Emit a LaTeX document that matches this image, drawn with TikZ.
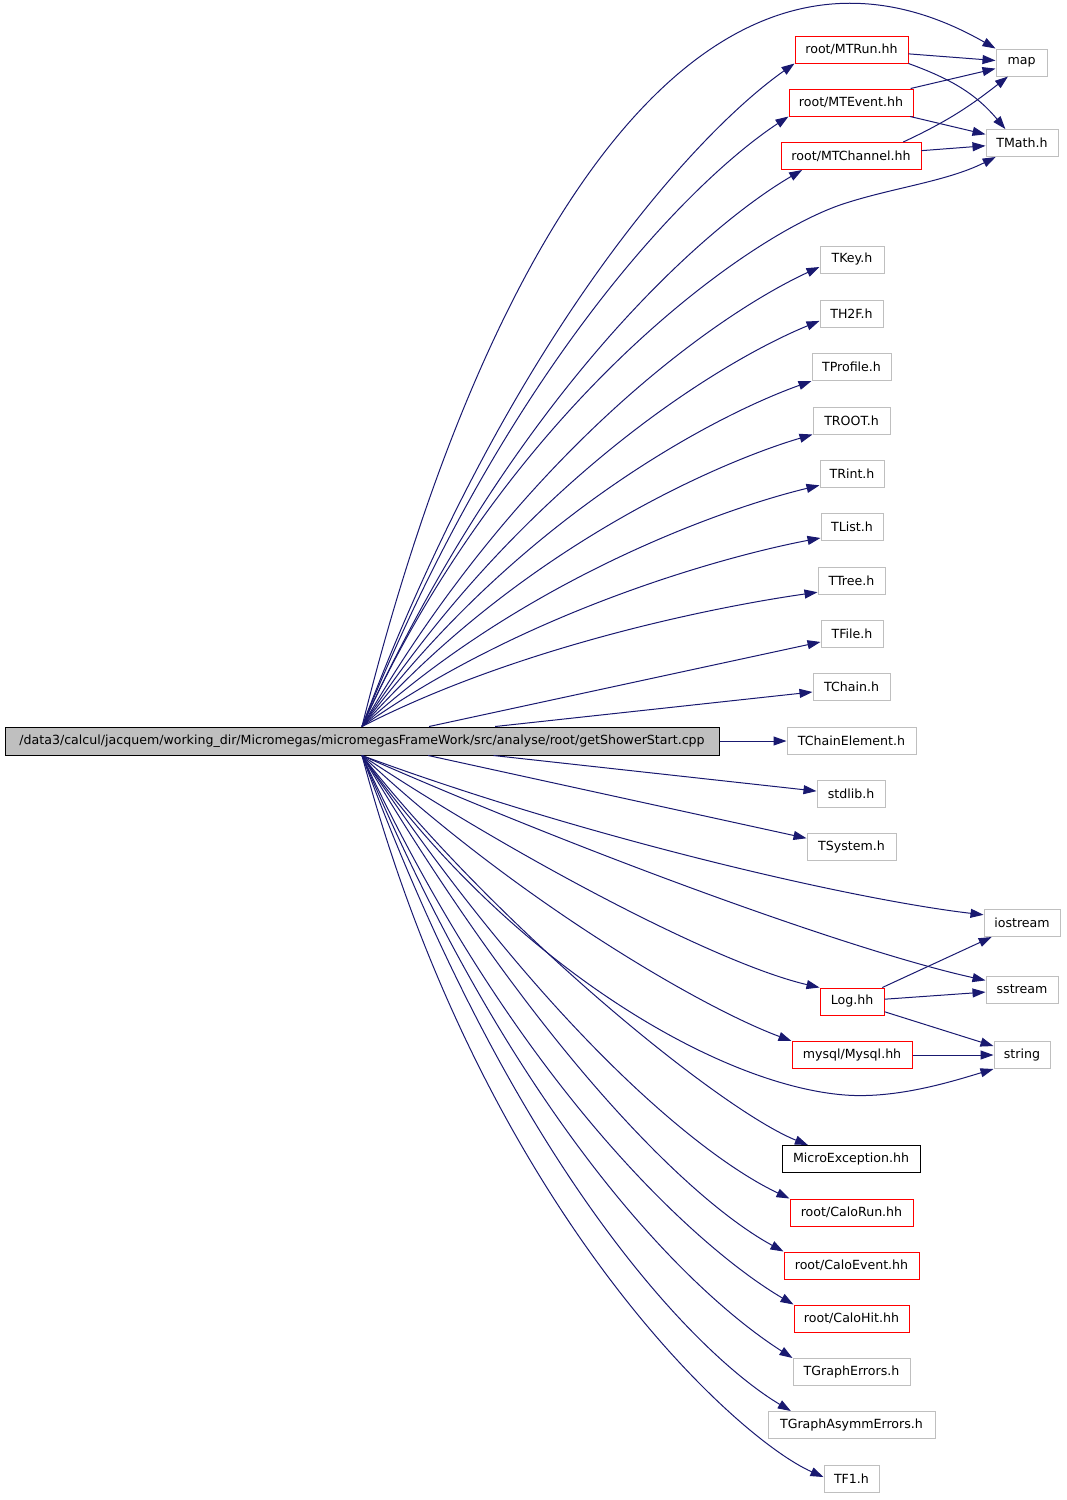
\documentclass[tikz,border=0pt]{standalone}
\usepackage{fontspec}
\setmainfont{DejaVu Sans}
\usepackage{tikz}
\usetikzlibrary{arrows.meta}
\definecolor{edgeblue}{HTML}{191970}
\definecolor{boxgray}{HTML}{BFBFBF}
\tikzset{%
  every file/.style={
    rectangle,
    draw=boxgray,
    line width=1pt,
    minimum height=27pt,
    inner sep=0pt,
    font=\fontsize{12.6pt}{14pt}\selectfont
  },
  file red/.style={every file, draw=red},
  file black/.style={every file, draw=black},
  file main/.style={every file, draw=black, fill=boxgray, minimum height=28pt},
  include/.style={draw=edgeblue, line width=1pt, ->},
}

\begin{document}
\begin{tikzpicture}[x=1pt, y=-1pt, >={Triangle[length=13pt,width=9pt]}]
\useasboundingbox (0,0) rectangle (1067,1500);

\node[file main, minimum width=714pt] (main) at (362,741) {/data3/calcul/jacquem/working\_dir/Micromegas/micromegasFrameWork/src/analyse/root/getShowerStart.cpp};

% included files
\node[file red, minimum width=113pt] (mtrun) at (851.5,49.5) {root/MTRun.hh};
\node[file red, minimum width=124pt] (mtevent) at (851,102.5) {root/MTEvent.hh};
\node[file red, minimum width=140pt] (mtchannel) at (851,156) {root/MTChannel.hh};
\node[every file, minimum width=64pt] (tkey) at (852,259.5) {TKey.h};
\node[every file, minimum width=63pt] (th2f) at (851.5,313.5) {TH2F.h};
\node[every file, minimum width=79pt] (tprofile) at (851.5,367) {TProfile.h};
\node[every file, minimum width=77pt] (troot) at (851.5,420.5) {TROOT.h};
\node[every file, minimum width=64pt] (trint) at (852,473.5) {TRint.h};
\node[every file, minimum width=62pt] (tlist) at (852,526.5) {TList.h};
\node[every file, minimum width=67pt] (ttree) at (851.5,580.5) {TTree.h};
\node[every file, minimum width=62pt] (tfile) at (852,633.5) {TFile.h};
\node[every file, minimum width=77pt] (tchain) at (851.5,686.5) {TChain.h};
\node[every file, minimum width=129pt] (tchainel) at (851.5,741) {TChainElement.h};
\node[every file, minimum width=68pt] (stdlib) at (851,793.5) {stdlib.h};
\node[every file, minimum width=89pt] (tsystem) at (851.5,847) {TSystem.h};
\node[file red, minimum width=64pt] (loghh) at (852,1001.5) {Log.hh};
\node[file red, minimum width=120pt] (mysql) at (852,1055) {mysql/Mysql.hh};
\node[file black, minimum width=138pt] (microexc) at (851,1159) {MicroException.hh};
\node[file red, minimum width=123pt] (calorun) at (851.5,1212.5) {root/CaloRun.hh};
\node[file red, minimum width=135pt] (caloevent) at (851.5,1265.5) {root/CaloEvent.hh};
\node[file red, minimum width=115pt] (calohit) at (851.5,1318.5) {root/CaloHit.hh};
\node[every file, minimum width=117pt] (tgraph) at (851.5,1372) {TGraphErrors.h};
\node[every file, minimum width=167pt] (tgraphasym) at (851.5,1425) {TGraphAsymmErrors.h};
\node[every file, minimum width=55pt] (tfone) at (851.5,1478.5) {TF1.h};

% second level
\node[every file, minimum width=51pt] (map) at (1021.5,62.5) {map};
\node[every file, minimum width=72pt] (tmath) at (1022,143) {TMath.h};
\node[every file, minimum width=76pt] (iostream) at (1022,923) {iostream};
\node[every file, minimum width=72pt] (sstream) at (1022,989.5) {sstream};
\node[every file, minimum width=56pt] (string) at (1022,1055) {string};

% upper fan
\draw[include] (main.north) .. controls +(118,-477) and +(-296,-169) .. (map.north west);
\draw[include] (main.north) .. controls +(150,-398) and +(-94,66) .. (mtrun.south west);
\draw[include] (main.north) .. controls +(148,-367) and +(-93,61) .. (mtevent.south west);
\draw[include] (main.north) .. controls +(153,-334) and +(-96,56) .. (mtchannel.196);
\draw[include] (main.north) .. controls +(142,-313) and +(-100,35) .. (840,205)
  .. controls +(50,-17) and +(-50,25) .. (tmath.208);
\draw[include] (main.north) .. controls +(159,-276) and +(-100,46) .. (tkey.193);
\draw[include] (main.north) .. controls +(160,-244) and +(-100,41) .. (th2f.193);
\draw[include] (main.north) .. controls +(156,-208) and +(-98,35) .. (tprofile.south west);
\draw[include] (main.north) .. controls +(156,-176) and +(-98,29) .. (troot.south west);
\draw[include] (main.north) .. controls +(159,-145) and +(-100,24) .. (trint.200);
\draw[include] (main.north) .. controls +(159,-113) and +(-100,19) .. (tlist.200);
\draw[include] (main.north) .. controls +(158,-81) and +(-99,14) .. (ttree.199);
\draw[include] (main) -- (tfile.195);
\draw[include] (main) -- (tchain.188);
\draw[include] (main) -- (tchainel);
\draw[include] (main) -- (stdlib.176);
\draw[include] (main) -- (tsystem.169);

% lower fan
\draw[include] (main.south) .. controls +(216,80) and +(-136,-16) .. (iostream.168);
\draw[include] (main.south) .. controls +(216,95) and +(-136,-30) .. (sstream.166);
\draw[include] (main.south) .. controls +(159,105) and +(-100,-23) .. (loghh.north west);
\draw[include] (main.south) .. controls +(149,140) and +(-94,-35) .. (mysql.north west);
\draw[include] (main.south) .. controls +(144,204) and +(-130,-10) .. (845,1095)
  .. controls +(52,4) and +(-40,12) .. (string.south west);
\draw[include] (main.south) .. controls +(138,175) and +(-87,-35) .. (microexc.162);
\draw[include] (main.south) .. controls +(178,266) and +(-93,-44) .. (calorun.north west);
\draw[include] (main.south) .. controls +(177,298) and +(-92,-50) .. (caloevent.north west);
\draw[include] (main.south) .. controls +(154,330) and +(-94,-55) .. (calohit.north west);
\draw[include] (main.south) .. controls +(160,380) and +(-94,-60) .. (tgraph.north west);
\draw[include] (main.south) .. controls +(155,420) and +(-92,-55) .. (tgraphasym.167);
\draw[include] (main.south) .. controls +(120,450) and +(-90,-40) .. (tfone.177);

% between included files
\draw[include] (mtrun) -- (map);
\draw[include] (mtrun.south east) to[out=-20, in=130] (tmath.140);
\draw[include] (mtevent) -- (map);
\draw[include] (mtevent) -- (tmath);
\draw[include] (mtchannel.15) to[out=25, in=218] (map.226);
\draw[include] (mtchannel) -- (tmath);
\draw[include] (loghh) -- (iostream);
\draw[include] (loghh) -- (sstream);
\draw[include] (loghh) -- (string);
\draw[include] (mysql) -- (string);
\end{tikzpicture}
\end{document}
